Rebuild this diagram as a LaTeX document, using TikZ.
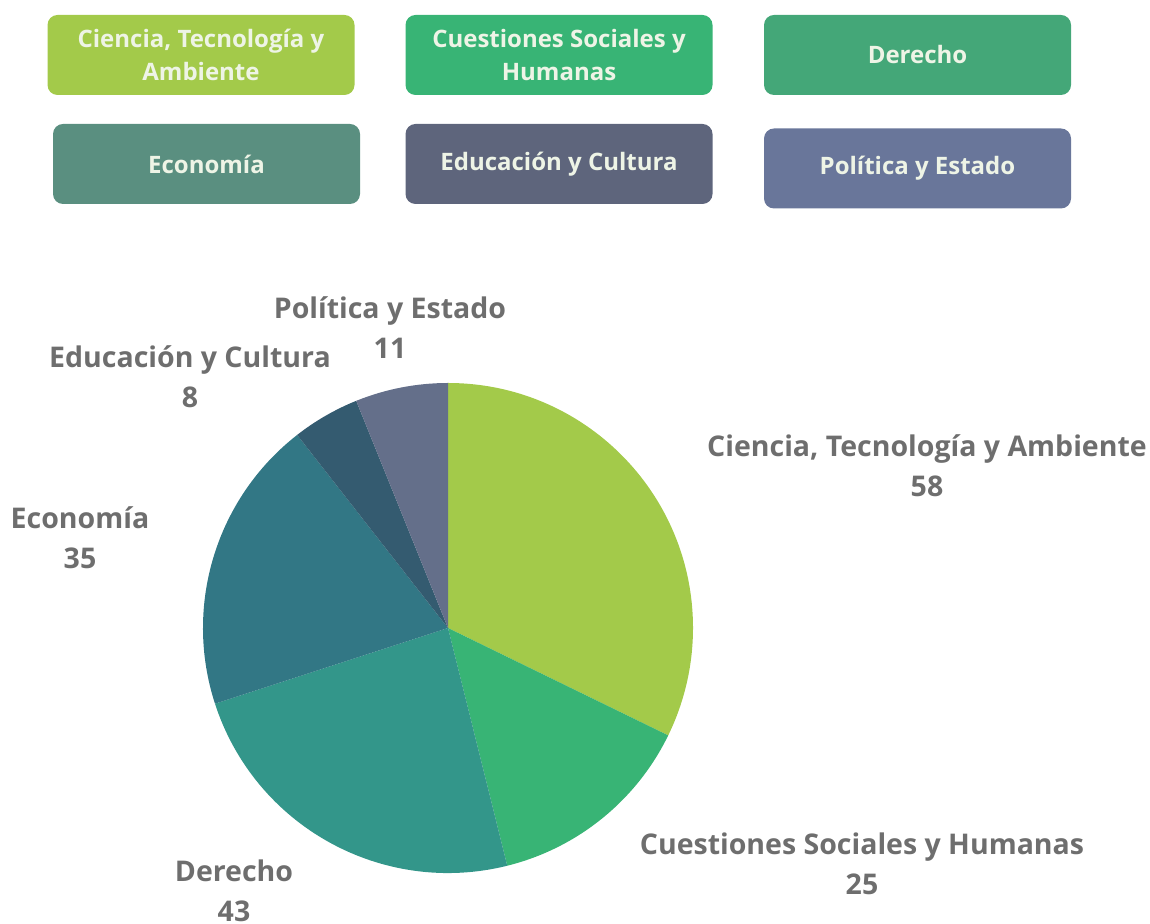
\documentclass[tikz,border=0pt]{standalone}
\usepackage{fontspec}
\setmainfont{Open Sans}
\definecolor{cCTA}{HTML}{A3CA4A}
\definecolor{cCSH}{HTML}{38B475}
\definecolor{cDERb}{HTML}{44A778}
\definecolor{cECOb}{HTML}{5A8F80}
\definecolor{cEDUb}{HTML}{5E657C}
\definecolor{cPOLb}{HTML}{69769A}
\definecolor{pDER}{HTML}{33968A}
\definecolor{pECO}{HTML}{327785}
\definecolor{pEDU}{HTML}{345B70}
\definecolor{pPOL}{HTML}{646F8A}
\definecolor{boxtxt}{HTML}{EEF4E6}
\definecolor{lbltxt}{HTML}{6E6E6E}
\tikzset{
  legbox/.style={rounded corners=10pt, minimum width=307pt, minimum height=80pt, inner sep=0pt,
    align=center, text=boxtxt, font=\fontsize{24}{33}\selectfont\bfseries},
  pielbl/.style={align=center, text=lbltxt, font=\fontsize{28.5}{40}\selectfont\bfseries, inner sep=0pt}
}
\begin{document}
\begin{tikzpicture}[x=1pt,y=1pt]
\useasboundingbox (0,0) rectangle (1150,923);
% legend boxes
\node[legbox, fill=cCTA] (bCTA) at (201,868) {Ciencia, Tecnología y\\Ambiente};
\node[legbox, fill=cCSH] (bCSH) at (559,868) {Cuestiones Sociales y\\Humanas};
\node[legbox, fill=cDERb] (bDER) at (917.5,868) {Derecho};
\node[legbox, fill=cECOb] (bECO) at (206.5,759) {Economía};
\node[legbox, fill=cEDUb] (bEDU) at (559,759) {Educación y Cultura};
\node[legbox, fill=cPOLb] (bPOL) at (917.5,754.5) {Política y Estado};
% pie
\coordinate (pc) at (448,295);
\fill[cCTA] (pc) -- ++(90:245) arc[start angle=90, end angle=-26, radius=245] -- cycle;
\fill[cCSH] (pc) -- ++(-26:245) arc[start angle=-26, end angle=-76, radius=245] -- cycle;
\fill[pDER] (pc) -- ++(-76:245) arc[start angle=-76, end angle=-162, radius=245] -- cycle;
\fill[pECO] (pc) -- ++(-162:245) arc[start angle=-162, end angle=-232, radius=245] -- cycle;
\fill[pEDU] (pc) -- ++(-232:245) arc[start angle=-232, end angle=-248, radius=245] -- cycle;
\fill[pPOL] (pc) -- ++(-248:245) arc[start angle=-248, end angle=-270, radius=245] -- cycle;
% labels
\node[pielbl] (lPOL) at (390,595) {Política y Estado\\11};
\node[pielbl] (lEDU) at (190,546) {Educación y Cultura\\8};
\node[pielbl] (lCTA) at (927,457) {Ciencia, Tecnología y Ambiente\\58};
\node[pielbl] (lECO) at (80,385) {Economía\\35};
\node[pielbl] (lCSH) at (862,59) {Cuestiones Sociales y Humanas\\25};
\node[pielbl] (lDER) at (234,32) {Derecho\\43};
\end{tikzpicture}
\end{document}
